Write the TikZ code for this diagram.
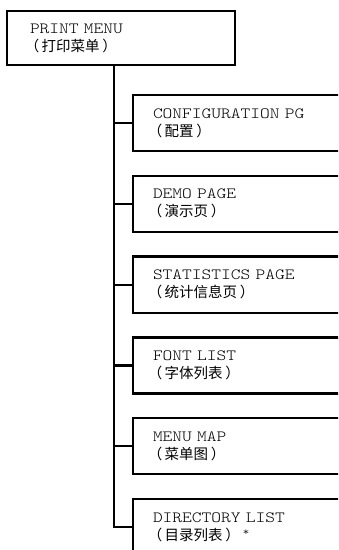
\documentclass[tikz,border=0pt]{standalone}
\usepackage{fontspec}
\setmainfont[Extension=.otf, FakeStretch=1.19]{lmmonolt10-regular}
\newfontfamily\cjk{Noto Sans CJK SC}
\newcommand{\menufont}{\fontsize{7.8}{9}\selectfont\fontdimen2\font=0.62em\relax}
\newcommand{\zh}[1]{{\cjk\fontsize{7.25}{9}\selectfont\hspace{-0.35em}（\hspace{0.15em}#1\hspace{0.2em}）}}
\usetikzlibrary{positioning}

\begin{document}
\begin{tikzpicture}[x=0.5pt, y=-0.5pt,
				   every node/.style={rectangle, draw=black, line width=1.1pt, outer sep=0pt, align=left,
				                      font=\menufont},
				   menu/.style={anchor=north west, minimum height=27pt, text width=91pt, inner xsep=11.5pt},
				   item/.style={minimum height=28pt, text width=93.5pt, inner xsep=10pt},
				   node distance=12.4pt]
\useasboundingbox (0,0) rectangle (338,550);
\clip (0,0) rectangle (338,550);
\node[menu] (print) at (7,11) {PRINT MENU\\\zh{打印菜单}};
\node[item, anchor=north west] (config) at (133,95) {CONFIGURATION PG\\\zh{配置}};
\node[item, below=of config] (demo) {DEMO PAGE\\\zh{演示页}};
\node[item, below=of demo] (stats) {STATISTICS PAGE\\\zh{统计信息页}};
\node[item, below=of stats] (font) {FONT LIST\\\zh{字体列表}};
\node[item, below=of font] (map) {MENU MAP\\\zh{菜单图}};
\node[item, below=of map] (dir) {DIRECTORY LIST\\\zh{目录列表}\,\raisebox{0.3em}{\fontsize{5.5}{6}\selectfont*}};
\coordinate (trunk) at (114,65);
\draw[line width=1.1pt] (trunk) |- (config.west);
\draw[line width=1.1pt] (trunk) |- (demo.west);
\draw[line width=1.1pt] (trunk) |- (stats.west);
\draw[line width=1.1pt] (trunk) |- (font.west);
\draw[line width=1.1pt] (trunk) |- (map.west);
\draw[line width=1.1pt] (trunk) |- (dir.west);
\end{tikzpicture}
\end{document}
